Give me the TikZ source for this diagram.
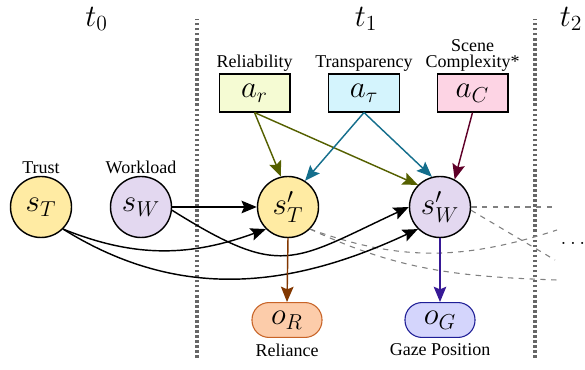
\documentclass[tikz,border=0pt]{standalone}
\usepackage{fontspec}
\setmainfont{Liberation Serif}
\usetikzlibrary{positioning,arrows.meta}

\definecolor{trustfill}{HTML}{FFEBA3}
\definecolor{loadfill}{HTML}{E3D8F0}
\definecolor{relfill}{HTML}{F5FBD3}
\definecolor{trafill}{HTML}{D4F4FD}
\definecolor{cplxfill}{HTML}{FDD4E4}
\definecolor{relyfill}{HTML}{FCCCAA}
\definecolor{relyline}{HTML}{C86428}
\definecolor{gazefill}{HTML}{D4D5FC}
\definecolor{gazeline}{HTML}{1E1E96}
\definecolor{relcol}{HTML}{556000}
\definecolor{tracol}{HTML}{146E8C}
\definecolor{cplxcol}{HTML}{5F0028}
\definecolor{relycol}{HTML}{823700}
\definecolor{gazecol}{HTML}{371996}

\begin{document}
\begin{tikzpicture}[x=5.556pt,y=5.556pt,
        state/.style={circle, draw, thick, minimum size=33.9pt, inner sep=0pt, font=\LARGE},
        action/.style={rectangle, draw, semithick, minimum width=39.4pt, minimum height=21.1pt, inner sep=0pt, font=\LARGE},
        obs/.style={rectangle, rounded corners=9.5pt, draw, semithick, minimum width=38.9pt, minimum height=19.4pt, inner sep=0pt, font=\LARGE},
        lab/.style={inner sep=1pt, align=center, font=\fontsize{10}{9}\selectfont},
        arr/.style={-{Stealth[length=8.5pt,width=7pt,inset=1.5pt]}, thick},
        ghost/.style={gray, dashed, semithick},
        slice/.style={black!60, line width=1.8pt, dash pattern=on 1.4pt off 1.4pt}]
    \useasboundingbox (0,0) rectangle (58.5,36.9);

    % time slices
    \node[font=\LARGE] (t0) at (9.65,35.0) {$t_0$};
    \node[font=\LARGE] (t1) at (36.6,35.0) {$t_1$};
    \node[font=\LARGE] (t2) at (57.1,35.0) {$t_2$};
    \draw[slice] (19.7,1.1) -- (19.7,35.0);
    \draw[slice] (53.5,1.1) -- (53.5,35.0);

    % hidden states
    \node[state, fill=trustfill] (sT) at (4.1,16.2) {$s_T$};
    \node[state, fill=loadfill] (sW) at (14.1,16.2) {$s_W$};
    \node[state, fill=trustfill] (sTn) at (28.8,16.2) {$s'_T$};
    \node[state, fill=loadfill] (sWn) at (44.0,16.2) {$s'_W$};
    \node[lab, above=0pt of sT] (trustlab) {Trust};
    \node[lab, above=0pt of sW] (loadlab) {Workload};

    % actions
    \node[action, fill=relfill] (ar) at (25.45,27.6) {$a_r$};
    \node[action, fill=trafill] (at) at (36.4,27.6) {$a_\tau$};
    \node[action, fill=cplxfill] (aC) at (47.25,27.6) {$a_C$};
    \node[lab, above=0pt of ar] (rellab) {Reliability};
    \node[lab, above=0pt of at] (tralab) {Transparency};
    \node[lab, above=0pt of aC] (cplxlab) {Scene\\Complexity*};

    % observations
    \node[obs, fill=relyfill, draw=relyline] (oR) at (28.7,4.9) {$o_R$};
    \node[obs, fill=gazefill, draw=gazeline] (oG) at (44.0,4.9) {$o_G$};
    \node[lab, below=2pt of oR] (relylab) {Reliance};
    \node[lab, below=2pt of oG] (gazelab) {Gaze Position};

    \node[font=\large] (more) at (57.3,12.6) {$\ldots$};

    % links into the next slice
    \coordinate (eWW) at (55.6,16.2);
    \coordinate (eWT) at (55.5,10.9);
    \coordinate (eTT) at (55.7,13.9);
    \coordinate (eTW) at (55.7,8.9);
    \draw[ghost] (sWn.east) -- (eWW);
    \draw[ghost] (sWn.-6) -- (eWT);
    \draw[ghost] (sTn.south east) to[out=-20,in=198] (eTT);
    \draw[ghost] (sTn.south east) to[out=-25,in=178] (eTW);

    % transitions
    \draw[arr] (sW.east) -- (sTn.west);
    \draw[arr] (sT.south east) to[out=-22,in=200] (sTn.south west);
    \draw[arr] (sT.south east) to[out=-32,in=205] (sWn.south west);
    \draw[arr] (sW.-6) to[out=-32,in=205,looseness=1.4] (sWn.west);

    \draw[arr, relcol] (ar.south) -- (sTn.103);
    \draw[arr, relcol] (ar.south) -- (sWn.135);
    \draw[arr, tracol] (at.south) -- (sTn.57);
    \draw[arr, tracol] (at.south) -- (sWn.105);
    \draw[arr, cplxcol] (aC.south) -- (sWn.62);

    \draw[arr, relycol] (sTn.south) -- (oR.north);
    \draw[arr, gazecol] (sWn.south) -- (oG.north);
\end{tikzpicture}
\end{document}
